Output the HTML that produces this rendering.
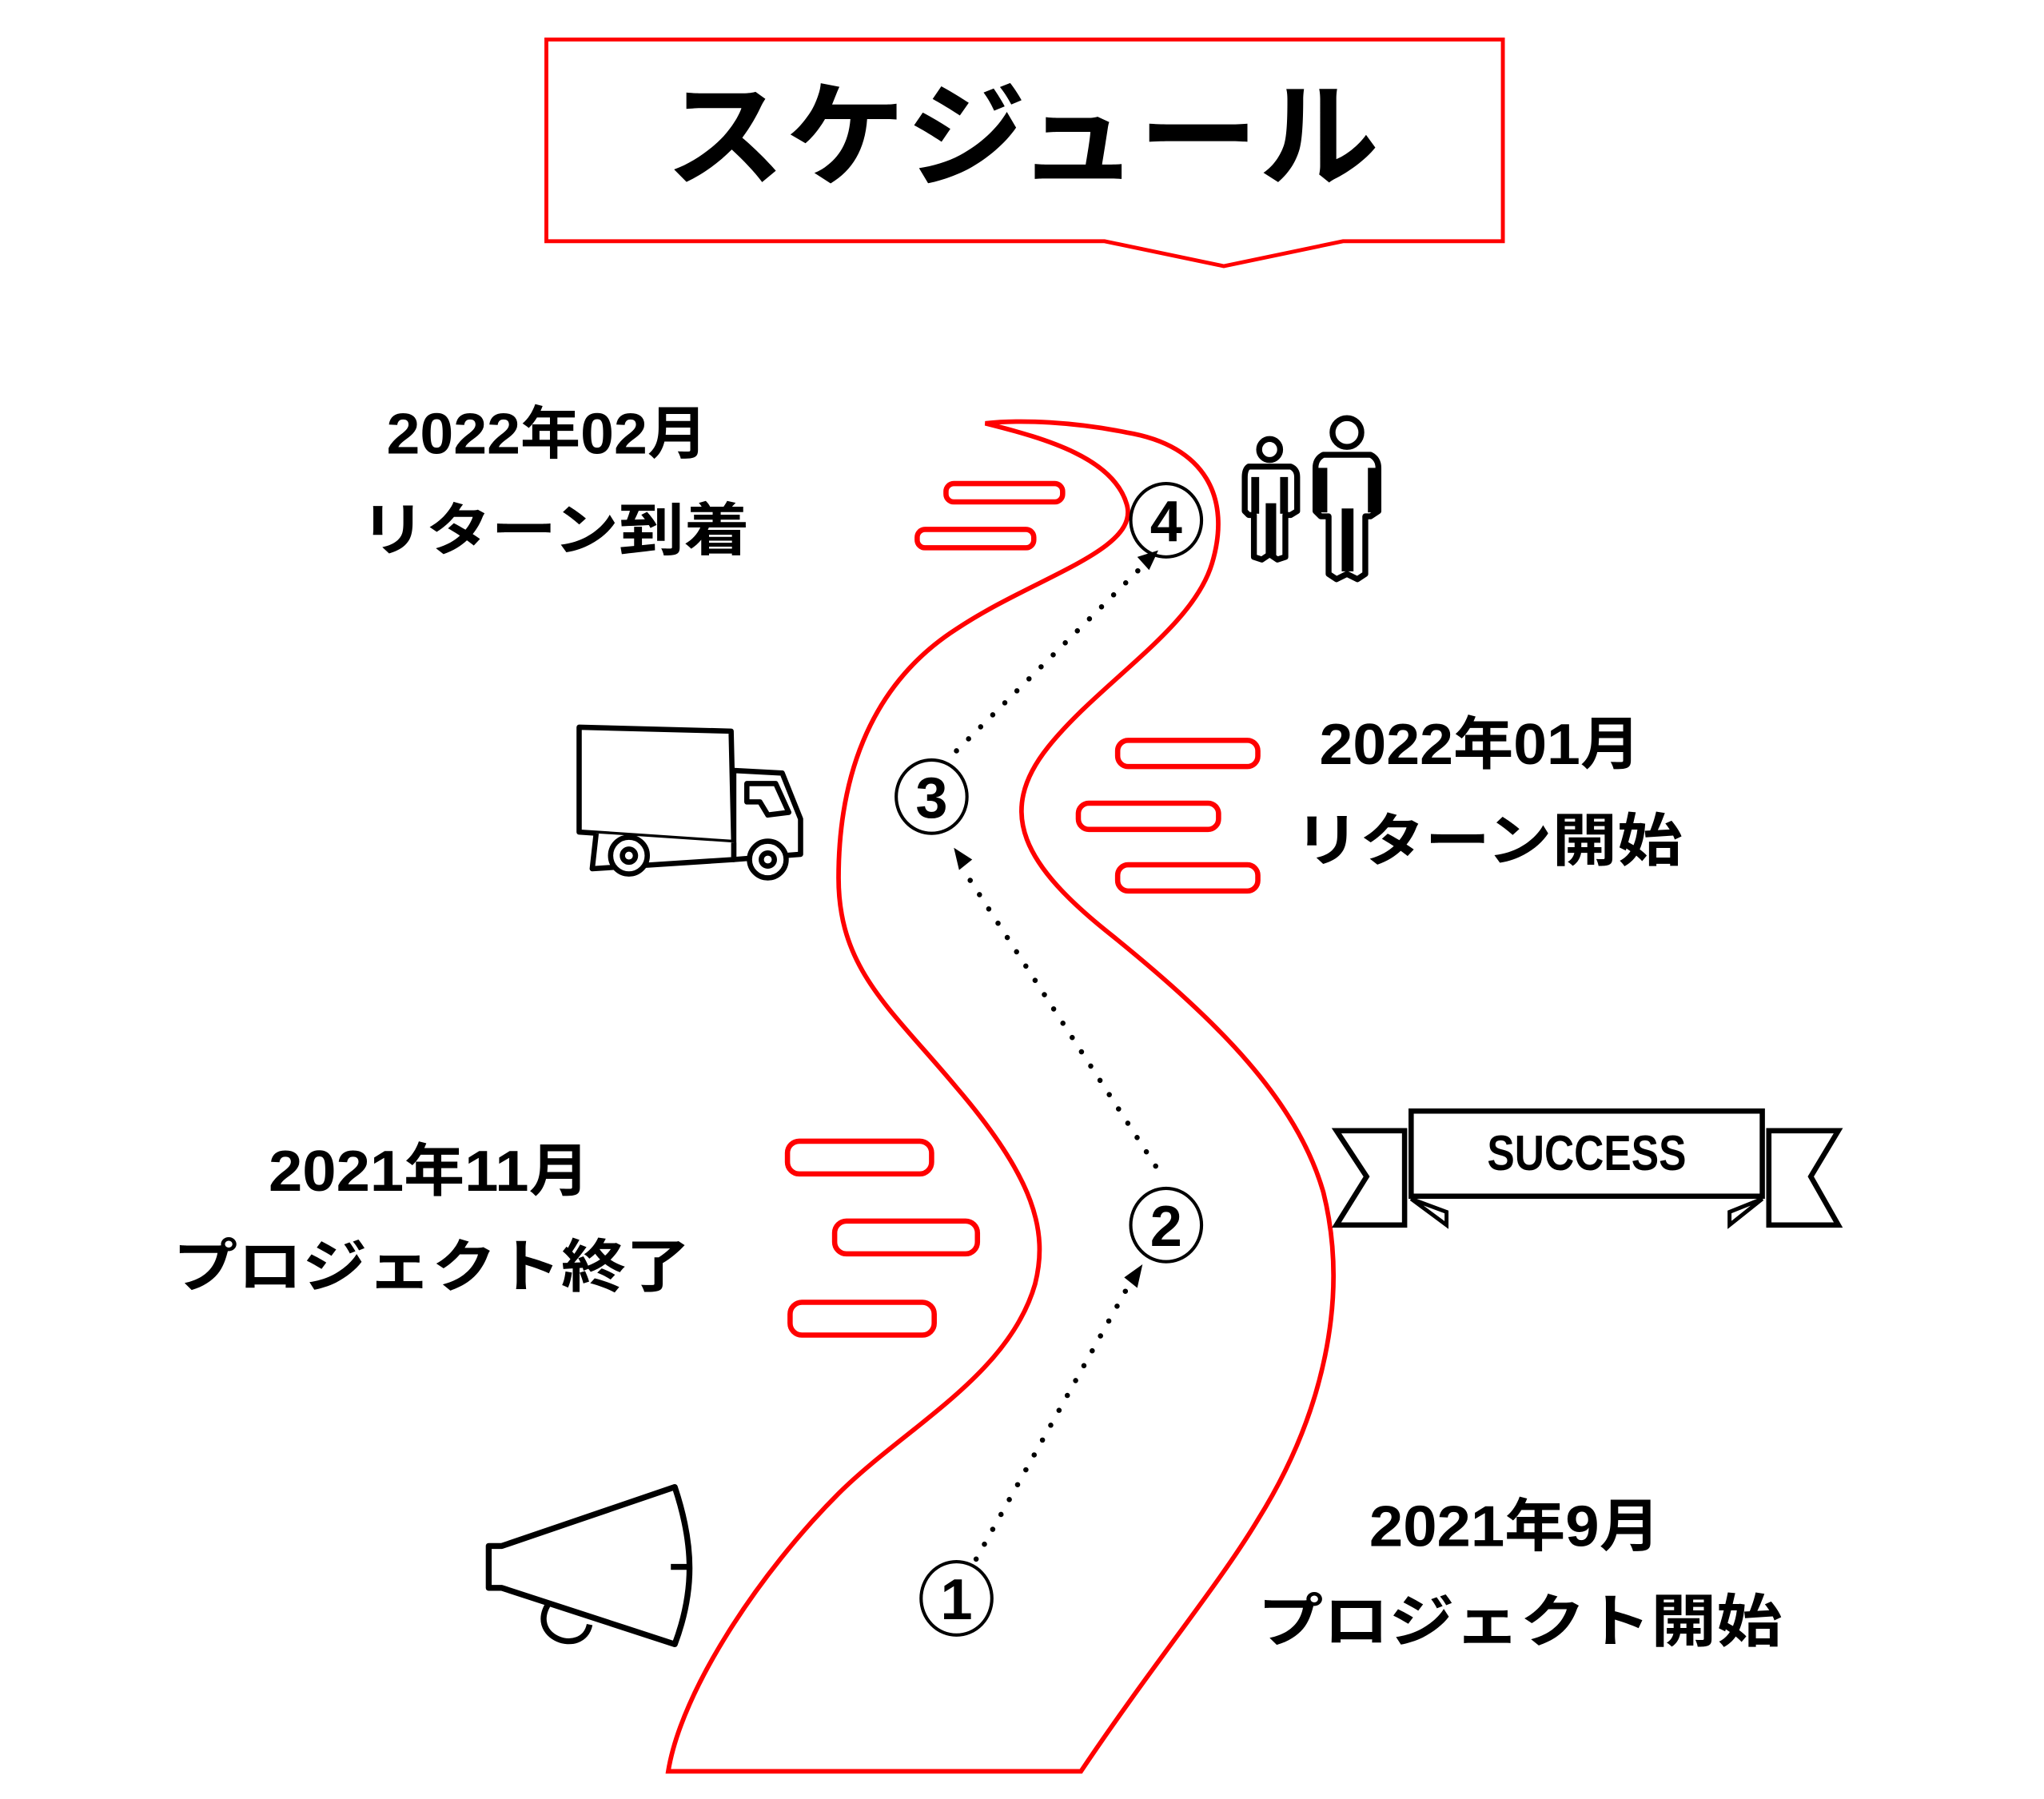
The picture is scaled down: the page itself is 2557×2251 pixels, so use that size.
<!DOCTYPE html>
<html><head><meta charset="utf-8"><style>
html,body{margin:0;padding:0;background:#fff;}
svg{display:block;}
text{font-family:"Liberation Sans","Noto Sans CJK JP",sans-serif;font-weight:bold;fill:#000;}
</style></head><body>
<svg width="2557" height="2251" viewBox="0 0 1560 1373" xmlns="http://www.w3.org/2000/svg">
<rect width="1560" height="1373" fill="#fff"/>
<!-- title box -->
<path d="M417,30 L1147,30 L1147,184 L1025,184 L934,203 L843,184 L417,184 Z" fill="none" stroke="#f00" stroke-width="3"/>
<text x="780" y="135" font-size="88" text-anchor="middle" textLength="545" lengthAdjust="spacingAndGlyphs">スケジュール</text>
<!-- road -->
<path d="M752,323 C800,335 850,350 860,385 C870,420 790,440 730,480 C660,525 640,600 640,670 C640,740 680,770 730,830 C790,900 800,940 790,980 C770,1050 690,1090 640,1140 C580,1200 520,1290 510,1352 L825,1352 C880,1270 930,1210 960,1160 C1010,1080 1030,990 1010,910 C990,840 930,780 850,715 C780,660 760,620 800,570 C840,520 910,480 925,430 C940,380 920,340 860,330 C820,322 780,320 752,323 Z" fill="none" stroke="#f00" stroke-width="3.5"/>
<!-- stripes -->
<g fill="none" stroke="#f00" stroke-width="4">
<rect x="722" y="369" width="89" height="14" rx="6"/>
<rect x="700" y="404" width="89" height="14" rx="6"/>
<rect x="853" y="565" width="107" height="20" rx="8"/>
<rect x="823" y="613" width="107" height="20" rx="8"/>
<rect x="853" y="660" width="107" height="20" rx="8"/>
<rect x="601" y="871" width="110" height="25" rx="9"/>
<rect x="637" y="932" width="109" height="25" rx="9"/>
<rect x="603" y="994" width="110" height="25" rx="9"/>
</g>
<!-- dotted arrows -->
<g stroke="#000" stroke-width="4" stroke-linecap="round" stroke-dasharray="0 13" fill="none">
<line x1="745" y1="1190" x2="862" y2="980"/>
<line x1="882" y1="890" x2="736" y2="665"/>
<line x1="730" y1="573" x2="872" y2="432"/>
</g>
<g fill="#000">
<polygon points="872,965 858,975 868,983"/>
<polygon points="728,647 732,664 742,656"/>
<polygon points="884,420 868,425 877,435"/>
</g>
<!-- circled numbers -->
<g fill="none" stroke="#000" stroke-width="2.5">
<ellipse cx="890" cy="397" rx="27" ry="28"/>
<ellipse cx="711" cy="608" rx="27" ry="28"/>
<ellipse cx="890" cy="935" rx="27" ry="28"/>
<ellipse cx="730" cy="1220" rx="27" ry="28"/>
</g>
<g font-size="44" text-anchor="middle">
<text x="890" y="413">4</text>
<text x="711" y="624">3</text>
<text x="890" y="951">2</text>
<text x="730" y="1236">1</text>
</g>
<!-- labels -->
<g font-size="44">
<text x="295" y="346" textLength="245" lengthAdjust="spacingAndGlyphs">2022年02月</text>
<text x="275" y="420" textLength="297" lengthAdjust="spacingAndGlyphs">リターン到着</text>
<text x="1007" y="583" textLength="245" lengthAdjust="spacingAndGlyphs">2022年01月</text>
<text x="988" y="657" textLength="296" lengthAdjust="spacingAndGlyphs">リターン開始</text>
<text x="205" y="909" textLength="245" lengthAdjust="spacingAndGlyphs">2021年11月</text>
<text x="132" y="982" textLength="395" lengthAdjust="spacingAndGlyphs">プロジェクト終了</text>
<text x="1045" y="1180" textLength="222" lengthAdjust="spacingAndGlyphs">2021年9月</text>
<text x="960" y="1253" textLength="400" lengthAdjust="spacingAndGlyphs">プロジェクト開始</text>
</g>
<!-- SUCCESS banner -->
<g fill="#fff" stroke="#000" stroke-width="4" stroke-linejoin="miter">
<polygon points="1020,863 1072,863 1072,935 1020,935 1043,898"/>
<polygon points="1350,863 1403,863 1382,898 1403,935 1350,935"/>
<polygon points="1077,915 1104,935 1104,925" stroke-width="3"/>
<polygon points="1345,915 1320,935 1320,925" stroke-width="3"/>
<rect x="1077" y="848" width="268" height="65"/>
</g>
<text x="1211" y="893" font-size="38" text-anchor="middle" textLength="152" lengthAdjust="spacingAndGlyphs">SUCCESS</text>
<!-- truck -->
<g fill="#fff" stroke="#000" stroke-width="4" stroke-linejoin="round">
<polygon points="442,555 558,558 560,643 442,635"/>
<path d="M560,588 L597,590 L611,625 L611,652 L560,656 Z"/>
<path d="M570,598 L592,598 L602,620 L586,622 L580,612 L570,612 Z"/>
<path d="M455,636 L452,663 L560,656 L560,643"/>
<circle cx="480" cy="653" r="14"/><circle cx="480" cy="653" r="5"/>
<circle cx="586" cy="656" r="14"/><circle cx="586" cy="656" r="5"/>
</g>
<!-- megaphone -->
<g fill="#fff" stroke="#000" stroke-width="4.5" stroke-linejoin="round">
<path d="M420,1222 C400,1250 445,1265 450,1240"/>
<path d="M373,1180 L383,1180 L515,1135 C530,1180 530,1215 515,1255 L383,1212 L373,1212 Z"/>
<line x1="512" y1="1196" x2="528" y2="1196"/>
</g>
<!-- people -->
<g fill="#fff" stroke="#000" stroke-width="4.5" stroke-linejoin="round">
<circle cx="969" cy="343" r="8"/>
<path d="M953,356 L985,356 Q990,358 990,364 L990,390 L985,393 L981,393 L981,425 L975,427 L969,423 L963,427 L957,425 L957,393 L953,393 L950,390 L950,364 Q950,358 953,356 Z"/>
<circle cx="1028" cy="330" r="11"/>
<path d="M1010,347 L1046,347 Q1052,350 1052,357 L1052,390 L1046,394 L1042,394 L1042,438 L1036,442 L1028,438 L1020,442 L1014,438 L1014,394 L1008,394 L1004,390 L1004,357 Q1004,350 1010,347 Z"/>
</g>
<g fill="#000">
<rect x="955" y="364" width="6" height="28"/><rect x="977" y="364" width="6" height="28"/>
<rect x="966" y="384" width="8" height="40"/>
<rect x="1006" y="357" width="7" height="34"/><rect x="1044" y="357" width="7" height="34"/>
<rect x="1024" y="388" width="9" height="48"/>
</g>
</svg>
</body></html>
